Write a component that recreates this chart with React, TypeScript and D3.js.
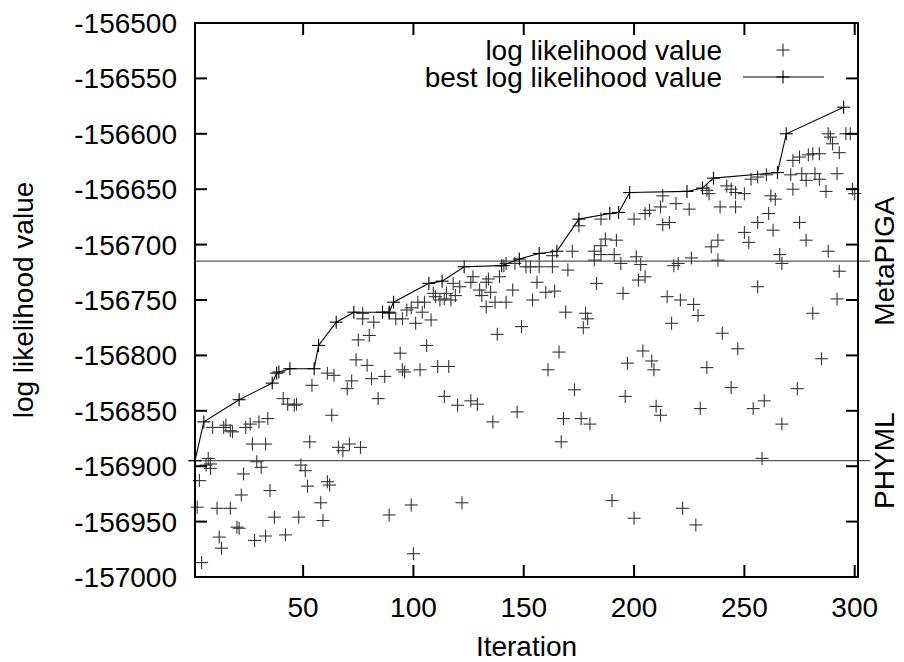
import React from "react";
import * as d3 from "d3";

// Scatter: every evaluated log likelihood value (iteration, value)
const scatterIter: number[] = [
  1, 7, 6, 8, 8, 3, 9, 14, 15, 17, 18, 24, 26, 30, 34, 27, 33, 41, 43, 46, 47, 54, 61, 64, 53, 63, 66, 68, 71, 76,
  70, 72, 74, 79, 81, 87, 84, 94, 95, 96, 75, 80, 77, 77, 82, 89, 92, 95, 97, 29, 31, 49, 51, 23, 52, 61, 62, 22, 35, 58,
  2, 11, 17, 37, 48, 59, 20, 21, 12, 13, 28, 33, 42, 4, 89,
  99, 101, 102, 105, 104, 108, 109, 110, 112, 115, 114, 117, 118, 119, 121, 126, 127, 130, 131, 133, 134, 135, 133, 137, 139,
  142, 145, 138, 149, 141, 142, 146, 151, 153, 157, 163, 163, 172, 170, 156, 160, 164, 154, 169, 178, 179, 177, 183, 195,
  182, 185, 185, 187, 192, 191, 194, 182, 175, 185, 166, 161, 173, 168, 176, 180, 167, 147, 136, 126, 129, 120, 114, 111,
  116, 103, 106, 197, 196, 99, 122, 100, 190, 200,
  200, 205, 207, 212, 213, 216, 219, 225, 213, 233, 234, 239, 246, 242, 244, 246, 250, 253, 256, 260, 262, 264, 256, 261,
  263, 272, 271, 276, 278, 282, 284, 287, 292, 272, 275, 279, 281, 284, 288, 289, 290, 293, 296, 298, 299, 300, 266, 267,
  275, 278, 288, 293, 256, 250, 252, 235, 238, 238, 218, 220, 226, 201, 203, 205, 202, 215, 221, 227, 229, 217, 240, 247,
  281, 292, 285, 204, 208, 209, 233, 244, 274, 259, 254, 230, 210, 212, 267, 258, 222, 228,
];
const scatterValue: number[] = [
  -156895, -156893, -156899, -156898, -156902, -156913, -156865, -156865, -156863, -156868, -156869, -156865, -156862, -156860, -156857, -156880, -156880, -156839, -156844, -156845, -156844, -156827, -156816, -156818, -156878, -156854, -156883, -156886, -156880, -156883,
  -156830, -156823, -156804, -156809, -156821, -156819, -156839, -156798, -156813, -156815, -156786, -156782, -156762, -156767, -156770, -156762, -156767, -156767, -156759, -156896, -156901, -156899, -156904, -156907, -156918, -156914, -156917, -156926, -156922, -156933,
  -156937, -156938, -156938, -156946, -156946, -156949, -156955, -156956, -156964, -156974, -156967, -156963, -156962, -156987, -156944,
  -156757, -156771, -156752, -156752, -156761, -156768, -156744, -156747, -156750, -156744, -156749, -156750, -156735, -156746, -156738, -156734, -156729, -156741, -156746, -156734, -156731, -156743, -156756, -156752, -156729,
  -156752, -156741, -156781, -156774, -156719, -156717, -156717, -156720, -156720, -156720, -156720, -156710, -156706, -156723, -156734, -156743, -156742, -156750, -156761, -156762, -156767, -156775, -156735, -156744,
  -156706, -156709, -156701, -156695, -156696, -156709, -156717, -156714, -156683, -156677, -156797, -156813, -156831, -156857, -156857, -156862, -156878, -156851, -156860, -156841, -156844, -156845, -156837, -156810,
  -156810, -156813, -156791, -156807, -156837, -156935, -156933, -156979, -156931, -156947,
  -156677, -156672, -156669, -156666, -156682, -156680, -156663, -156668, -156656, -156651, -156654, -156666, -156666, -156647, -156650, -156653, -156654, -156641, -156639, -156637, -156656, -156659, -156680, -156672,
  -156687, -156650, -156637, -156636, -156642, -156636, -156641, -156652, -156636, -156624, -156621, -156619, -156618, -156618, -156600, -156603, -156609, -156617, -156600, -156600, -156650, -156654, -156709, -156717,
  -156680, -156696, -156706, -156724, -156738, -156689, -156698, -156702, -156696, -156714, -156719, -156717, -156712, -156711, -156718, -156729, -156732, -156747, -156750, -156754, -156764, -156771, -156780, -156794,
  -156762, -156749, -156803, -156796, -156805, -156813, -156811, -156829, -156830, -156841, -156848, -156848, -156846, -156854, -156862, -156893, -156938, -156953,
];

// Best-so-far log likelihood value
const bestIter: number[] = [1, 5, 21, 36, 38, 39, 44, 55, 57, 65, 73, 86, 89, 91, 107, 113, 123, 140, 148, 157, 165, 175, 189, 193, 198, 224, 231, 236, 265, 269, 295];
const bestValue: number[] = [
  -156895, -156860, -156840, -156825, -156816, -156815, -156812, -156812, -156791, -156770, -156761, -156761, -156761, -156752, -156735, -156733,
  -156720, -156719, -156713, -156708, -156706, -156677, -156672, -156671, -156653, -156652, -156649, -156640, -156635, -156600, -156576,
];

// Reference values from other programs
const refNames: string[] = ["MetaPIGA", "PHYML"];
const refValues: number[] = [-156715, -156895];

const xTicks: number[] = [50, 100, 150, 200, 250, 300];
const yTicks: number[] = [-156500, -156550, -156600, -156650, -156700, -156750, -156800, -156850, -156900, -156950, -157000];

const W = 904;
const H = 662;
const L = 195;
const R = 858;
const T = 23;
const B = 577;
const FONT = "'Liberation Sans', Arial, Helvetica, sans-serif";
const FS = 28;

function Plus({ x, y, s = 6.5, color = "#222" }: { x: number; y: number; s?: number; color?: string }) {
  return (
    <g stroke={color} strokeWidth={1.1}>
      <line x1={x - s} x2={x + s} y1={y} y2={y} />
      <line x1={x} x2={x} y1={y - s} y2={y + s} />
    </g>
  );
}

export default function App() {
  const x = d3.scaleLinear().domain([1, 301.5]).range([L, R]);
  const y = d3.scaleLinear().domain([-157000, -156500]).range([B, T]);

  const bestPts: [number, number][] = bestIter.map((d, i) => [x(d), y(bestValue[i])]);
  const linePath = d3.line()(bestPts) || "";

  return (
    <svg
      width={W}
      height={H}
      style={{ position: "absolute", left: 0, top: 0, background: "#fff" }}
      fontFamily={FONT}
    >
      <rect x={0} y={0} width={W} height={H} fill="#fff" />
      {/* reference horizontal lines */}
      {refValues.map((v, i) => (
        <g key={"ref" + i}>
          <line x1={L} x2={R + 12} y1={y(v)} y2={y(v)} stroke="#555" strokeWidth={1.2} />
        </g>
      ))}
      {/* scatter */}
      {scatterIter.map((d, i) => (
        <Plus key={"s" + i} x={x(d)} y={y(scatterValue[i])} color="#333" />
      ))}
      {/* best line */}
      <path d={linePath} fill="none" stroke="#000" strokeWidth={1.1} />
      {bestPts.map((p, i) => (
        <Plus key={"b" + i} x={p[0]} y={p[1]} color="#000" />
      ))}
      {/* ticks */}
      {yTicks.map((t) => (
        <g key={"yt" + t}>
          <line x1={L} x2={L + 12} y1={y(t)} y2={y(t)} stroke="#000" strokeWidth={2} />
          <line x1={R} x2={R - 12} y1={y(t)} y2={y(t)} stroke="#000" strokeWidth={2} />
          <text x={L - 18} y={y(t)} dy="0.36em" textAnchor="end" fontSize={FS} fill="#000">
            {t}
          </text>
        </g>
      ))}
      {xTicks.map((t) => (
        <g key={"xt" + t}>
          <line x1={x(t)} x2={x(t)} y1={B} y2={B - 12} stroke="#000" strokeWidth={2} />
          <line x1={x(t)} x2={x(t)} y1={T} y2={T + 12} stroke="#000" strokeWidth={2} />
          <text x={x(t)} y={607} dy="0.36em" textAnchor="middle" fontSize={FS} fill="#000">
            {t}
          </text>
        </g>
      ))}
      {/* border */}
      <rect x={L} y={T} width={R - L} height={B - T} fill="none" stroke="#000" strokeWidth={2} />
      {/* right-side reference labels */}
      {refValues.map((v, i) => (
        <text
          key={"rl" + i}
          transform={`translate(${884},${y(v)}) rotate(-90)`}
          dy="0.36em"
          textAnchor="middle"
          fontSize={FS}
          fill="#000"
        >
          {refNames[i]}
        </text>
      ))}
      {/* axis titles */}
      <text x={(L + R) / 2} y={646} dy="0.36em" textAnchor="middle" fontSize={FS} fill="#000">
        Iteration
      </text>
      <text transform={`translate(23,${(T + B) / 2}) rotate(-90)`} dy="0.36em" textAnchor="middle" fontSize={FS} fill="#000">
        log likelihood value
      </text>
      {/* legend */}
      <text x={722} y={50} dy="0.36em" textAnchor="end" fontSize={FS} fill="#000">
        log likelihood value
      </text>
      <Plus x={783} y={50} color="#333" />
      <text x={722} y={77} dy="0.36em" textAnchor="end" fontSize={FS} fill="#000">
        best log likelihood value
      </text>
      <line x1={743} x2={824} y1={77} y2={77} stroke="#000" strokeWidth={1.1} />
      <Plus x={783} y={77} color="#000" />
    </svg>
  );
}
